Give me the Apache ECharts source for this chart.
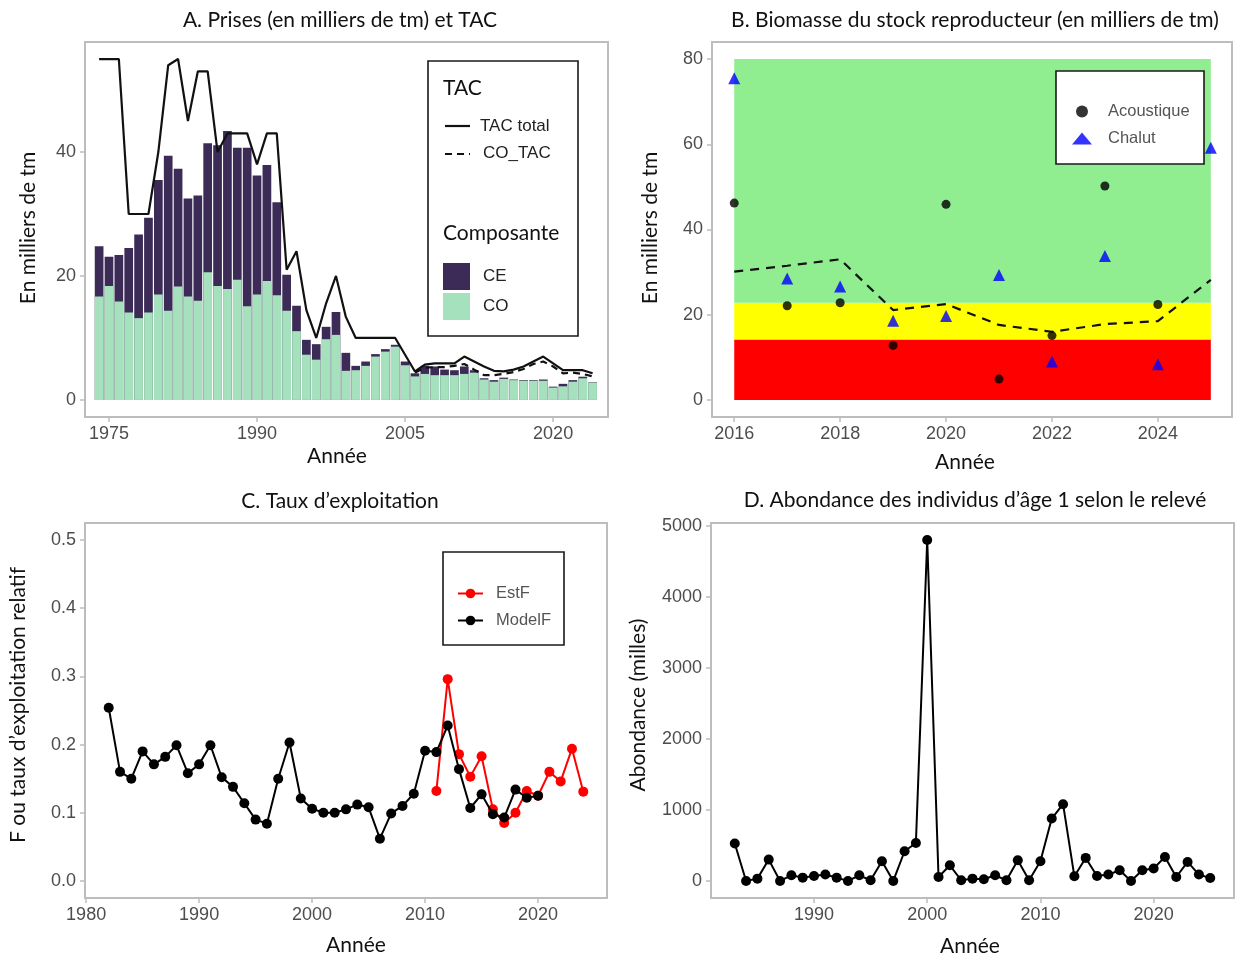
<!DOCTYPE html>
<html><head><meta charset="utf-8">
<script src="https://cdn.jsdelivr.net/npm/echarts@6/dist/echarts.min.js"></script>
<style>html,body{margin:0;padding:0;background:#fff}#c{width:1237px;height:956px}</style>
</head><body><div id="c"></div><script>
function range(a, b) { const r = []; for (let y = a; y <= b; y++) r.push(y); return r; }

// ---------- Panel A : catches and TAC ----------
const yearsA = range(1974, 2024);
const catchTotal = [24.8,23.1,23.4,24.5,26.7,29.4,35.5,39.4,37.3,32.5,33.0,41.4,41.1,43.4,40.7,40.7,36.2,37.9,31.9,20.2,
  15.2,9.7,9.0,11.8,14.2,7.6,5.5,6.2,7.4,8.2,8.9,6.2,4.3,5.5,5.4,4.9,4.8,5.4,4.8,3.5,3.2,3.6,3.3,3.2,3.2,3.3,2.15,2.6,3.2,3.75,2.85];
const catchCO = [16.7,18.4,15.9,14.1,13.2,14.1,17.0,14.4,18.3,16.7,16.0,20.6,18.4,17.9,19.4,15.1,17.0,19.2,16.9,14.4,
  11.1,7.3,6.5,9.8,10.5,4.7,4.8,5.5,7.0,7.8,8.6,5.6,3.8,4.2,4.0,4.0,4.0,4.2,4.4,3.3,2.95,3.4,3.2,3.1,3.1,3.1,2.0,2.2,2.95,3.5,2.8];
const tacTotal = [55,55,55,30,30,30,40,54,55,45,53,53,40,43,43,43,38,43,43,21,24,14.5,10,15.6,20,13.4,10,10,10,10,10,
  7.3,4.6,5.7,5.9,5.9,5.9,7.0,6.2,5.4,4.7,4.6,4.9,5.4,6.2,7.0,5.9,4.8,4.8,4.8,4.3];
const yearsCoTac = range(2006, 2024);
const coTac = [4.4,5.2,5.3,5.3,5.5,5.8,4.9,4.0,4.0,4.2,4.5,5.0,5.8,6.2,5.4,4.3,4.4,4.2,3.8];
const ticksAx = [1975, 1990, 2005, 2020];
const ticksAy = [0, 20, 40];

// ---------- Panel B : spawning stock biomass ----------
const yearsAcou = range(2016, 2024);
const acoustique = [46.2,22.1,22.8,12.8,45.9,4.9,15.1,50.2,22.4];
const yearsChalut = range(2016, 2025);
const chalut = [75.5,28.5,26.6,18.6,19.7,29.3,9.0,33.8,8.4,59.2];
const yearsRef = range(2016, 2025);
const refLine = [30.1,31.5,33.0,21.1,22.5,17.6,16.0,17.8,18.5,28.2];
const zoneLimits = [0, 14.2, 22.8, 80];   // red / yellow / green
const zoneColors = ['#ff0000', '#ffff00', '#90ee90'];
const ticksBx = [2016, 2018, 2020, 2022, 2024];
const ticksBy = [0, 20, 40, 60, 80];

// ---------- Panel C : exploitation rate ----------
const yearsModelF = range(1982, 2020);
const modelF = [0.254,0.160,0.150,0.190,0.171,0.182,0.199,0.158,0.171,0.199,0.152,0.138,0.114,0.090,0.084,0.150,0.203,0.121,
  0.106,0.100,0.100,0.105,0.112,0.108,0.062,0.099,0.110,0.128,0.191,0.189,0.228,0.164,0.107,0.127,0.098,0.093,0.134,0.122,0.125];
const yearsEstF = range(2011, 2024);
const estF = [0.132,0.296,0.186,0.153,0.183,0.105,0.085,0.100,0.132,0.125,0.160,0.146,0.194,0.131];
const ticksCx = [1980, 1990, 2000, 2010, 2020];
const ticksCy = [0, 0.1, 0.2, 0.3, 0.4, 0.5];

// ---------- Panel D : age-1 abundance ----------
const yearsAbund = range(1983, 2025);
const abundance = [527,0,33,301,0,80,47,71,90,47,0,80,10,278,0,419,536,4805,56,221,10,33,24,80,10,292,10,278,880,1082,
  66,325,71,90,151,0,151,175,339,56,268,90,42];
const ticksDx = [1990, 2000, 2010, 2020];
const ticksDy = [0, 1000, 2000, 3000, 4000, 5000];

const pairs = (xs, ys) => xs.map((x, i) => [x, ys[i]]);

const TICKFONT = 'Liberation Sans';
const TITLEFONT = 'Lato';
const GRAY = '#bdbdbd';

function xAx(gi, min, max, ticks) {
  return { type: 'value', gridIndex: gi, min, max,
    axisLine: { show: false, onZero: false }, splitLine: { show: false },
    axisTick: { show: true, customValues: ticks, length: 5, lineStyle: { color: GRAY, width: 1.5 } },
    axisLabel: { customValues: ticks, color: '#4d4d4d', fontSize: 18, fontFamily: TICKFONT, margin: 8,
      formatter: v => String(v) } };
}
function yAx(gi, min, max, ticks, fmt) {
  return { type: 'value', gridIndex: gi, min, max,
    axisLine: { show: false, onZero: false }, splitLine: { show: false },
    axisTick: { show: true, customValues: ticks, length: 5, lineStyle: { color: GRAY, width: 1.5 } },
    axisLabel: { customValues: ticks, color: '#4d4d4d', fontSize: 18, fontFamily: TICKFONT, margin: 9,
      formatter: fmt || (v => String(v)) } };
}
function gridBox(left, top, width, height) {
  return { left, top, width, height, show: true, borderColor: GRAY, borderWidth: 2, backgroundColor: 'transparent', containLabel: false };
}
function txt(text, x, y, size, rot, align, font, color) {
  return { type: 'text', x, y, rotation: rot || 0, z: 10,
    style: { text, fontSize: size, fontFamily: font || TITLEFONT, fill: color || '#111', align: align || 'center', verticalAlign: 'middle' } };
}
function box(x, y, w, h) {
  return { type: 'rect', shape: { x, y, width: w, height: h }, z: 3,
    style: { fill: '#fff', stroke: '#1a1a1a', lineWidth: 1.6 } };
}
function keyLine(x1, x2, y, dash) {
  return { type: 'line', shape: { x1, y1: y, x2, y2: y }, z: 10,
    style: { stroke: '#111', lineWidth: 2.2, lineDash: dash || null } };
}

const bandData = [];
for (let i = 0; i < zoneColors.length; i++) {
  bandData.push([{ xAxis: 2016, yAxis: zoneLimits[i], itemStyle: { color: zoneColors[i] } },
                 { xAxis: 2025, yAxis: zoneLimits[i + 1] }]);
}

const option = {
  backgroundColor: '#fff',
  animation: false,
  grid: [gridBox(85, 42, 523, 375), gridBox(712, 42, 520, 375), gridBox(85, 523, 522, 375), gridBox(711, 523, 523, 375)],
  xAxis: [xAx(0, 1972.57, 2025.56, ticksAx), xAx(1, 2015.58, 2025.4, ticksBx), xAx(2, 1979.9, 2026.1, ticksCx), xAx(3, 1980.9, 2027.1, ticksDx)],
  yAxis: [yAx(0, -2.75, 57.75, ticksAy), yAx(1, -4, 84, ticksBy), yAx(2, -0.025, 0.525, ticksCy, v => v.toFixed(1)), yAx(3, -240, 5045, ticksDy)],
  legend: [
    { data: ['CE', 'CO'], orient: 'vertical', left: 438, top: 258, icon: 'rect', itemWidth: 27, itemHeight: 27, itemGap: 3,
      textStyle: { fontSize: 17, fontFamily: TICKFONT, color: '#222', padding: [0, 0, 0, 8] }, selectedMode: false, z: 5 },
    { data: ['Acoustique', 'Chalut'], orient: 'vertical', left: 1067, top: 98, itemWidth: 20, itemHeight: 12, itemGap: 10,
      textStyle: { fontSize: 16.5, fontFamily: TICKFONT, color: '#555', padding: [0, 0, 0, 11] }, selectedMode: false, z: 5 },
    { data: ['EstF', 'ModelF'], orient: 'vertical', left: 452, top: 580, itemWidth: 25, itemHeight: 12, itemGap: 10,
      textStyle: { fontSize: 16.5, fontFamily: TICKFONT, color: '#555', padding: [0, 0, 0, 8] }, selectedMode: false, z: 5 }
  ],
  graphic: { elements: [
    txt('A. Prises (en milliers de tm) et TAC', 340, 20, 21),
    txt('B. Biomasse du stock reproducteur (en milliers de tm)', 975, 20, 21),
    txt('C. Taux d\u2019exploitation', 340, 501, 21),
    txt('D. Abondance des individus d\u2019âge 1 selon le relevé', 975, 500, 21),
    txt('Année', 337, 456, 21), txt('Année', 965, 462, 21), txt('Année', 356, 945, 21), txt('Année', 970, 946, 21),
    txt('En milliers de tm', 28, 228, 21, Math.PI / 2),
    txt('En milliers de tm', 650, 228, 21, Math.PI / 2),
    txt('F ou taux d\u2019exploitation relatif', 18, 705, 21, Math.PI / 2),
    txt('Abondance (milles)', 638, 705, 21, Math.PI / 2),
    box(428, 61, 150, 275), box(1056, 71, 148, 93), box(443, 552, 121, 93),
    txt('TAC', 443, 88, 21, 0, 'left'),
    txt('Composante', 443, 233, 21, 0, 'left'),
    keyLine(445, 470, 126), txt('TAC total', 480, 126, 17, 0, 'left', TICKFONT, '#222'),
    keyLine(445, 470, 154, [7, 5]), txt('CO_TAC', 483, 153, 17, 0, 'left', TICKFONT, '#222')
  ] },
  series: [
    // Panel A : total catch bar (dark, visible part = CE) with CO bar on top of it
    { name: 'CE', type: 'bar', xAxisIndex: 0, yAxisIndex: 0, barWidth: 8.7, barGap: '-100%', data: pairs(yearsA, catchTotal),
      itemStyle: { color: '#3b2b56' } },
    { name: 'CO', type: 'bar', xAxisIndex: 0, yAxisIndex: 0, barWidth: 8.7, barGap: '-100%', data: pairs(yearsA, catchCO),
      itemStyle: { color: '#a6e1be' } },
    { name: 'TAC total', type: 'line', xAxisIndex: 0, yAxisIndex: 0, data: pairs(yearsA, tacTotal), symbol: 'none', z: 4,
      lineStyle: { color: '#111', width: 2.2 }, itemStyle: { color: '#111' } },
    { name: 'CO_TAC', type: 'line', xAxisIndex: 0, yAxisIndex: 0, data: pairs(yearsCoTac, coTac), symbol: 'none', z: 4,
      lineStyle: { color: '#111', width: 2.2, type: [7, 5] }, itemStyle: { color: '#111' } },
    // Panel B
    { name: 'zones', type: 'line', xAxisIndex: 1, yAxisIndex: 1, data: [], z: 1, silent: true,
      markArea: { silent: true, itemStyle: { opacity: 1 }, data: bandData } },
    { name: 'ref', type: 'line', xAxisIndex: 1, yAxisIndex: 1, data: pairs(yearsRef, refLine), symbol: 'none', z: 3,
      lineStyle: { color: '#111', width: 2.2, type: [9, 7] } },
    { name: 'Acoustique', type: 'scatter', xAxisIndex: 1, yAxisIndex: 1, data: pairs(yearsAcou, acoustique), symbol: 'circle',
      symbolSize: 9, itemStyle: { color: '#000' }, z: 4 },
    { name: 'Chalut', type: 'scatter', xAxisIndex: 1, yAxisIndex: 1, data: pairs(yearsChalut, chalut), symbol: 'triangle',
      symbolSize: 12, itemStyle: { color: '#0000ff' }, z: 4 },
    // Panel C
    { name: 'EstF', type: 'line', xAxisIndex: 2, yAxisIndex: 2, data: pairs(yearsEstF, estF), symbol: 'circle', symbolSize: 10,
      lineStyle: { color: '#ff0000', width: 2 }, itemStyle: { color: '#ff0000' }, z: 3 },
    { name: 'ModelF', type: 'line', xAxisIndex: 2, yAxisIndex: 2, data: pairs(yearsModelF, modelF), symbol: 'circle', symbolSize: 10,
      lineStyle: { color: '#000', width: 2 }, itemStyle: { color: '#000' }, z: 4 },
    // Panel D
    { name: 'Abondance', type: 'line', xAxisIndex: 3, yAxisIndex: 3, data: pairs(yearsAbund, abundance), symbol: 'circle', symbolSize: 10,
      lineStyle: { color: '#000', width: 2 }, itemStyle: { color: '#000' } }
  ]
};
const chart = echarts.init(document.getElementById('c'), null, { renderer: 'canvas' });
chart.setOption(option);
</script></body></html>
